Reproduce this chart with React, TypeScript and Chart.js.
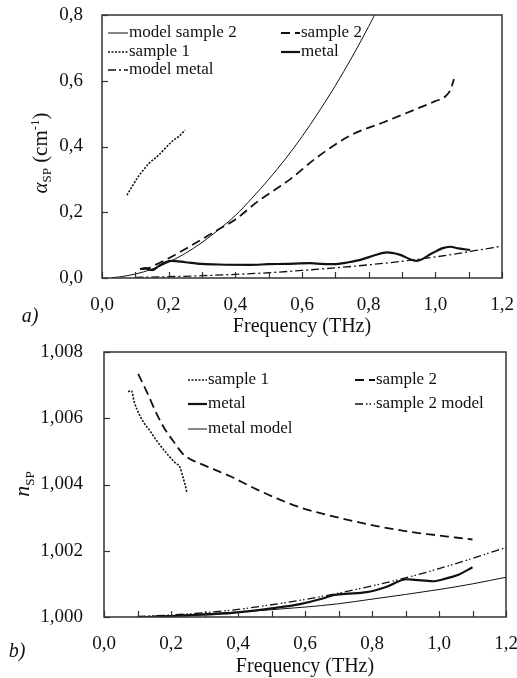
import React, { useEffect, useRef } from "react";
import { Chart, registerables } from "chart.js";
Chart.register(...registerables);

const FONT = '"Liberation Serif", "Times New Roman", serif';

// ---------- Panel a) attenuation alpha_SP (cm-1) ----------
const aModelSample2F = [0.03, 0.05, 0.1, 0.15, 0.2, 0.25, 0.3, 0.35, 0.4, 0.45, 0.5, 0.55, 0.6, 0.65, 0.7, 0.75, 0.8, 0.83];
const aModelSample2V = [0.001, 0.003, 0.012, 0.027, 0.048, 0.075, 0.108, 0.147, 0.19, 0.243, 0.3, 0.362, 0.43, 0.505, 0.585, 0.672, 0.765, 0.825];

const aSample2F = [0.12, 0.14, 0.16, 0.2, 0.25, 0.3, 0.35, 0.4, 0.47, 0.56, 0.645, 0.744, 0.843, 0.945, 1.0, 1.03, 1.045, 1.056];
const aSample2V = [0.027, 0.03, 0.04, 0.06, 0.088, 0.118, 0.148, 0.178, 0.235, 0.297, 0.367, 0.433, 0.473, 0.515, 0.538, 0.552, 0.572, 0.605];

const aSample1F = [0.075, 0.09, 0.11, 0.123, 0.14, 0.16, 0.174, 0.19, 0.213, 0.23, 0.249];
const aSample1V = [0.252, 0.278, 0.31, 0.327, 0.348, 0.365, 0.378, 0.395, 0.418, 0.43, 0.45];

const aMetalF = [0.114, 0.13, 0.15, 0.17, 0.19, 0.21, 0.25, 0.3, 0.35, 0.444, 0.5, 0.55, 0.625, 0.66, 0.695, 0.74, 0.775, 0.82, 0.855, 0.89, 0.944, 0.99, 1.02, 1.044, 1.07, 1.104];
const aMetalV = [0.027, 0.03, 0.024, 0.036, 0.048, 0.052, 0.048, 0.043, 0.041, 0.04, 0.042, 0.043, 0.045, 0.043, 0.042, 0.048, 0.055, 0.07, 0.078, 0.072, 0.052, 0.075, 0.09, 0.095, 0.09, 0.085];

const aModelMetalF = [0.1, 0.2, 0.3, 0.4, 0.5, 0.6, 0.7, 0.8, 0.9, 1.0, 1.1, 1.2];
const aModelMetalV = [0.002, 0.004, 0.007, 0.011, 0.016, 0.023, 0.031, 0.04, 0.051, 0.064, 0.08, 0.097];

// ---------- Panel b) refractive index n_SP ----------
const bSample1F = [0.072, 0.082, 0.09, 0.107, 0.12, 0.137, 0.16, 0.188, 0.21, 0.227, 0.236, 0.242, 0.248];
const bSample1V = [1.0068, 1.00683, 1.0065, 1.00608, 1.00585, 1.00562, 1.00528, 1.00493, 1.00468, 1.00451, 1.00421, 1.004, 1.00373];

const bSample2F = [0.102, 0.13, 0.157, 0.18, 0.206, 0.236, 0.26, 0.287, 0.33, 0.385, 0.436, 0.5, 0.585, 0.66, 0.734, 0.81, 0.884, 0.94, 0.993, 1.05, 1.1];
const bSample2V = [1.00734, 1.00675, 1.00614, 1.0057, 1.00532, 1.00492, 1.00475, 1.00463, 1.00445, 1.00421, 1.00395, 1.00365, 1.00331, 1.0031, 1.00292, 1.00275, 1.00262, 1.00253, 1.00247, 1.0024, 1.00234];

const bMetalF = [0.15, 0.25, 0.35, 0.436, 0.5, 0.585, 0.65, 0.684, 0.72, 0.784, 0.84, 0.904, 0.93, 0.982, 1.02, 1.054, 1.1];
const bMetalV = [1.00001, 1.00005, 1.0001, 1.00018, 1.00026, 1.00039, 1.00055, 1.00066, 1.0007, 1.00075, 1.0009, 1.00114, 1.00112, 1.00108, 1.00116, 1.00126, 1.0015];

const bSample2ModelF = [0.1, 0.2, 0.3, 0.4, 0.5, 0.6, 0.7, 0.8, 0.9, 1.0, 1.1, 1.2];
const bSample2ModelV = [1.00002, 1.00006, 1.00013, 1.00023, 1.00037, 1.00053, 1.00072, 1.00094, 1.00118, 1.00146, 1.00177, 1.0021];

const bMetalModelF = [0.1, 0.2, 0.3, 0.4, 0.5, 0.6, 0.7, 0.8, 0.9, 1.0, 1.1, 1.2];
const bMetalModelV = [1.00001, 1.00004, 1.0001, 1.00015, 1.00022, 1.0003, 1.0004, 1.00054, 1.00068, 1.00083, 1.001, 1.0012];

const xTickLabels = ["0,0", "0,2", "0,4", "0,6", "0,8", "1,0", "1,2"];

const pts = (f: number[], v: number[]) => f.map((x, i) => ({ x, y: v[i] }));

const STYLE: Record<string, any> = {
  thin: { borderWidth: 1, borderDash: [] },
  thick: { borderWidth: 2.2, borderDash: [] },
  dashed: { borderWidth: 1.8, borderDash: [9, 5] },
  dotted: { borderWidth: 1.6, borderDash: [2, 1.5] },
  dashdot: { borderWidth: 1.3, borderDash: [8, 3, 2, 3] },
  dashdotdot: { borderWidth: 1.3, borderDash: [8, 3, 1.5, 2, 1.5, 3] },
};

function ds(label: string, f: number[], v: number[], style: string) {
  return {
    label,
    data: pts(f, v),
    borderColor: "#111",
    backgroundColor: "#111",
    pointRadius: 0,
    fill: false,
    cubicInterpolationMode: "monotone",
    ...STYLE[style],
  };
}

type Piece = { t: string; size: number; italic?: boolean; dy?: number };

function decorPlugin(p: {
  yStep: number;
  yTitle: Piece[];
  yTitleX: number;
  yTitleY: number;
  xTitleY: number;
  panel: string;
  panelX: number;
  panelY: number;
  legend: { i: number; x0: number; x1: number; y: number }[];
}) {
  return {
    id: "decor",
    afterDraw(chart: any) {
      const ctx = chart.ctx as CanvasRenderingContext2D;
      const { left, right, top, bottom } = chart.chartArea;
      const xs = chart.scales.x;
      const ys = chart.scales.y;
      ctx.save();
      // frame
      ctx.strokeStyle = "#333";
      ctx.lineWidth = 1.5;
      ctx.setLineDash([]);
      ctx.strokeRect(left, top, right - left, bottom - top);
      // inward ticks
      ctx.lineWidth = 1.2;
      for (let v = ys.min; v <= ys.max + 1e-9; v += p.yStep) {
        const y = Math.round(ys.getPixelForValue(v)) + 0.5;
        ctx.beginPath();
        ctx.moveTo(left, y);
        ctx.lineTo(left + 6, y);
        ctx.stroke();
      }
      for (let k = 0; k <= 12; k++) {
        const x = Math.round(xs.getPixelForValue(k / 10)) + 0.5;
        ctx.beginPath();
        ctx.moveTo(x, bottom);
        ctx.lineTo(x, bottom - 6);
        ctx.stroke();
      }
      // x title
      ctx.fillStyle = "#111";
      ctx.font = `20px ${FONT}`;
      ctx.textAlign = "center";
      ctx.textBaseline = "middle";
      ctx.fillText("Frequency (THz)", (left + right) / 2, p.xTitleY);
      // panel label
      ctx.font = `italic 20px ${FONT}`;
      ctx.fillText(p.panel, p.panelX, p.panelY);
      // y title (rotated, rich)
      ctx.save();
      ctx.translate(p.yTitleX, p.yTitleY);
      ctx.rotate(-Math.PI / 2);
      ctx.textAlign = "left";
      ctx.textBaseline = "alphabetic";
      const fontOf = (pc: Piece) => `${pc.italic ? "italic " : ""}${pc.size}px ${FONT}`;
      let total = 0;
      for (const pc of p.yTitle) {
        ctx.font = fontOf(pc);
        total += ctx.measureText(pc.t).width;
      }
      let cx = -total / 2;
      for (const pc of p.yTitle) {
        ctx.font = fontOf(pc);
        ctx.fillText(pc.t, cx, 7 + (pc.dy || 0));
        cx += ctx.measureText(pc.t).width;
      }
      ctx.restore();
      // legend
      ctx.font = `17px ${FONT}`;
      ctx.textAlign = "left";
      ctx.textBaseline = "middle";
      for (const it of p.legend) {
        const d = chart.data.datasets[it.i];
        ctx.strokeStyle = "#111";
        ctx.lineWidth = d.borderWidth;
        ctx.setLineDash(d.borderDash || []);
        ctx.beginPath();
        ctx.moveTo(it.x0, it.y);
        ctx.lineTo(it.x1, it.y);
        ctx.stroke();
        ctx.setLineDash([]);
        ctx.fillText(d.label, it.x1 + 1, it.y);
      }
      ctx.restore();
    },
  };
}

function zeroPad(s: any) {
  s.paddingLeft = 0;
  s.paddingRight = 0;
  s.paddingTop = 0;
  s.paddingBottom = 0;
}

function baseOptions(o: {
  yMin: number;
  yMax: number;
  yStep: number;
  yDec: number;
  yWidth: number;
  yPad: number;
  pad: any;
}) {
  return {
    responsive: false,
    animation: false,
    devicePixelRatio: 1,
    layout: { padding: o.pad },
    plugins: { legend: { display: false }, tooltip: { enabled: false } },
    elements: { line: { tension: 0 } },
    scales: {
      x: {
        type: "linear",
        min: 0,
        max: 1.2,
        grid: { display: false, drawTicks: false },
        border: { display: false },
        ticks: {
          stepSize: 0.2,
          padding: 16,
          color: "#111",
          font: { family: FONT, size: 19 },
          maxRotation: 0,
          callback: (v: number) => xTickLabels[Math.round(v / 0.2)] ?? "",
        },
        afterFit: (s: any) => {
          s.height = 61;
          zeroPad(s);
        },
      },
      y: {
        type: "linear",
        min: o.yMin,
        max: o.yMax,
        grid: { display: false, drawTicks: false },
        border: { display: false },
        ticks: {
          stepSize: o.yStep,
          padding: o.yPad,
          color: "#111",
          font: { family: FONT, size: 19 },
          callback: (v: number) => Number(v).toFixed(o.yDec).replace(".", ","),
        },
        afterFit: (s: any) => {
          s.width = o.yWidth;
          zeroPad(s);
        },
      },
    },
  };
}

export default function App() {
  const topRef = useRef<HTMLCanvasElement>(null);
  const botRef = useRef<HTMLCanvasElement>(null);

  useEffect(() => {
    const top = new Chart(topRef.current as HTMLCanvasElement, {
      type: "line",
      data: {
        datasets: [
          ds("model sample 2", aModelSample2F, aModelSample2V, "thin"),
          ds("sample 2", aSample2F, aSample2V, "dashed"),
          ds("sample 1", aSample1F, aSample1V, "dotted"),
          ds("metal", aMetalF, aMetalV, "thick"),
          ds("model metal", aModelMetalF, aModelMetalV, "dashdot"),
        ] as any,
      },
      options: baseOptions({ yMin: 0, yMax: 0.8, yStep: 0.2, yDec: 1, yWidth: 102, yPad: 19, pad: { top: 15, right: 15, left: 0, bottom: 0 } }) as any,
      plugins: [
        decorPlugin({
          yStep: 0.2,
          yTitle: [
            { t: "α", size: 21, italic: true },
            { t: "SP", size: 13, dy: 4 },
            { t: " (cm", size: 21 },
            { t: "-1", size: 13, dy: -8 },
            { t: ")", size: 21 },
          ],
          yTitleX: 40,
          yTitleY: 153,
          xTitleY: 327,
          panel: "a)",
          panelX: 30,
          panelY: 317,
          legend: [
            { i: 0, x0: 108, x1: 128, y: 33 },
            { i: 2, x0: 108, x1: 128, y: 52 },
            { i: 4, x0: 108, x1: 128, y: 70 },
            { i: 1, x0: 281, x1: 300, y: 33 },
            { i: 3, x0: 281, x1: 300, y: 52 },
          ],
        }) as any,
      ],
    });

    const bot = new Chart(botRef.current as HTMLCanvasElement, {
      type: "line",
      data: {
        datasets: [
          ds("sample 1", bSample1F, bSample1V, "dotted"),
          ds("sample 2", bSample2F, bSample2V, "dashed"),
          ds("metal", bMetalF, bMetalV, "thick"),
          ds("sample 2 model", bSample2ModelF, bSample2ModelV, "dashdotdot"),
          ds("metal model", bMetalModelF, bMetalModelV, "thin"),
        ] as any,
      },
      options: baseOptions({ yMin: 1.0, yMax: 1.008, yStep: 0.002, yDec: 3, yWidth: 104, yPad: 21, pad: { top: 13, right: 11, left: 0, bottom: 0 } }) as any,
      plugins: [
        decorPlugin({
          yStep: 0.002,
          yTitle: [
            { t: "n", size: 22, italic: true },
            { t: "SP", size: 13, dy: 5 },
          ],
          yTitleX: 22,
          yTitleY: 145,
          xTitleY: 328,
          panel: "b)",
          panelX: 17,
          panelY: 313,
          legend: [
            { i: 0, x0: 188, x1: 207, y: 41 },
            { i: 2, x0: 188, x1: 207, y: 65 },
            { i: 4, x0: 188, x1: 207, y: 90 },
            { i: 1, x0: 355, x1: 375, y: 41 },
            { i: 3, x0: 355, x1: 375, y: 65 },
          ],
        }) as any,
      ],
    });

    return () => {
      top.destroy();
      bot.destroy();
    };
  }, []);

  return (
    <div style={{ position: "absolute", left: 0, top: 0, width: 517, height: 678, background: "#fff" }}>
      <canvas ref={topRef} width={517} height={339} style={{ display: "block", width: 517, height: 339 }} />
      <canvas ref={botRef} width={517} height={339} style={{ display: "block", width: 517, height: 339 }} />
    </div>
  );
}
